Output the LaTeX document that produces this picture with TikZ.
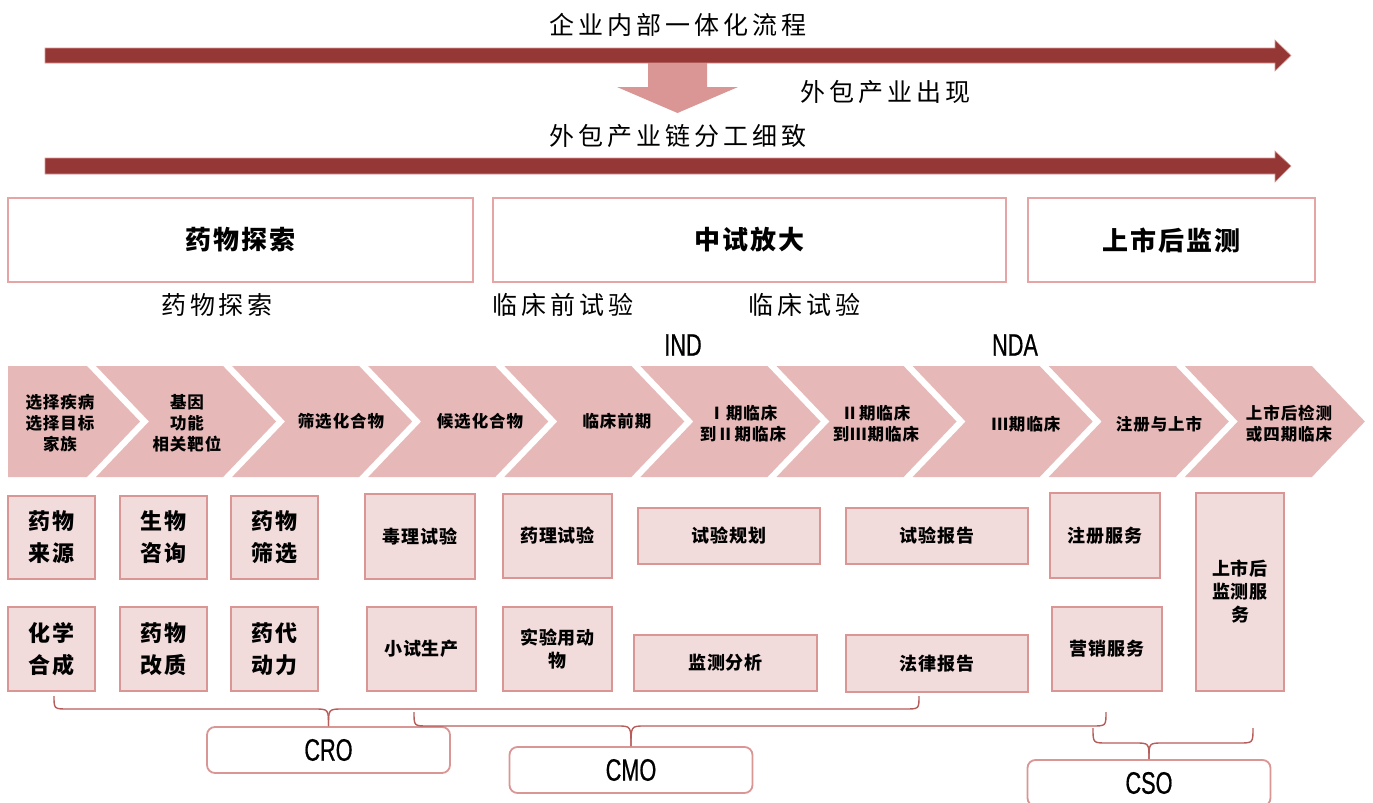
\documentclass[tikz,border=0pt]{standalone}
\usepackage{fontspec}
\setmainfont{Noto Sans CJK SC}
\newfontfamily\fTitle[LetterSpace=16]{Noto Sans CJK SC}
\newfontfamily\fHead[LetterSpace=7]{Noto Sans CJK SC}
\newfontfamily\fChev[LetterSpace=6]{Noto Sans CJK SC}
\newfontfamily\fBig[LetterSpace=10]{Noto Sans CJK SC}
\newfontfamily\fSmall[LetterSpace=5]{Noto Sans CJK SC}
\newfontfamily\fNarrow[FakeStretch=0.7,FakeBold=0.6]{Liberation Sans}
\definecolor{darkred}{HTML}{953735}
\definecolor{downcol}{HTML}{D99694}
\definecolor{chev}{HTML}{E6B9B8}
\definecolor{boxfill}{HTML}{F2DCDB}
\definecolor{boxline}{HTML}{D99694}
\definecolor{headline}{HTML}{E6A5A5}
\definecolor{bracecol}{HTML}{B85C5A}
\begin{document}
\begin{tikzpicture}[x=0.5pt,y=-0.5pt,
  ttl/.style={font=\fTitle\fontsize{12.5}{15}\selectfont, inner sep=0},
  lbl/.style={font=\fTitle\fontsize{12.5}{15}\selectfont, inner sep=0},
  headbox/.style={draw=headline, line width=0.75pt, fill=white, minimum height=42pt, inner sep=0,
    font=\fHead\bfseries\fontsize{13}{15}\selectfont},
  chevtxt/.style={font=\fChev\bfseries\fontsize{8.25}{10.5}\selectfont, align=center, inner sep=0},
  pbox/.style={draw=boxline, fill=boxfill, line width=0.9pt, inner sep=0, align=center},
  bigtxt/.style={pbox, font=\fBig\bfseries\fontsize{11}{16}\selectfont},
  smalltxt/.style={pbox, font=\fSmall\bfseries\fontsize{9}{11.5}\selectfont},
  latin/.style={font=\fNarrow\fontsize{15.5}{17}\selectfont, inner sep=0},
  orgbox/.style={draw=boxline, line width=0.9pt, fill=white, rounded corners=4pt,
    minimum width=121.5pt, minimum height=23pt, inner sep=0, font=\fNarrow\fontsize{15.5}{17}\selectfont},
  brace/.style={draw=bracecol, line width=0.7pt},
  bigarrow/.style={fill=darkred, draw=downcol, line width=0.3pt}
]
\useasboundingbox (0,0) rectangle (1373,803);

% ---- top arrows ----
\path[bigarrow] (45,48) -- (1275,48) -- (1275,40) -- (1291,55.5) -- (1275,71) -- (1275,63) -- (45,63) -- cycle;
\path[bigarrow] (45,158) -- (1275,158) -- (1275,151) -- (1291,166) -- (1275,182) -- (1275,174) -- (45,174) -- cycle;
\fill[downcol] (648,63) -- (707,63) -- (707,87) -- (738,87) -- (677.5,113) -- (617,87) -- (648,87) -- cycle;

\node[ttl] (t1) at (678,25) {企业内部一体化流程};
\node[ttl] (t2) at (885,92) {外包产业出现};
\node[ttl] (t3) at (678,136) {外包产业链分工细致};

% ---- header boxes ----
\node[headbox, minimum width=232.5pt] (h1) at (240.5,240) {药物探索};
\node[headbox, minimum width=256.5pt] (h2) at (749.5,240) {中试放大};
\node[headbox, minimum width=143.5pt] (h3) at (1171.5,240) {上市后监测};

\node[lbl] (l1) at (217,305) {药物探索};
\node[lbl] (l2) at (563,305) {临床前试验};
\node[lbl] (l3) at (804,305) {临床试验};
\node[latin] (ind) at (683,345) {IND};
\node[latin] (nda) at (1015,345) {NDA};

% ---- chevrons ----
\fill[chev] (8,366) -- (87,366) -- (140,421.5) -- (87,477) -- (8,477) -- cycle;
\foreach \k in {1,...,9}{
  \pgfmathsetmacro{\R}{87+136.1*\k}
  \pgfmathsetmacro{\L}{87+136.1*(\k-1)+9}
  \fill[chev] (\L,366) -- (\R,366) -- (\R+53,421.5) -- (\R,477) -- (\L,477) -- (\L+53,421.5) -- cycle;
}
\node[chevtxt] (cv0) at (60,423) {选择疾病\\选择目标\\家族};
\node[chevtxt] (cv1) at (187,423) {基因\\功能\\相关靶位};
\node[chevtxt] (cv2) at (341,421) {筛选化合物};
\node[chevtxt] (cv3) at (480,421) {候选化合物};
\node[chevtxt] (cv4) at (617,421) {临床前期};
\node[chevtxt] (cv5) at (743,424) {Ⅰ期临床\\到Ⅱ期临床};
\node[chevtxt] (cv6) at (876,424) {Ⅱ期临床\\到Ⅲ期临床};
\node[chevtxt] (cv7) at (1026,424) {Ⅲ期临床};
\node[chevtxt] (cv8) at (1159,424) {注册与上市};
\node[chevtxt] (cv9) at (1289,424) {上市后检测\\或四期临床};

% ---- service boxes ----
\node[bigtxt, minimum width=43.5pt, minimum height=41.5pt] (a1) at (51.5,537.5) {药物\\来源};
\node[bigtxt, minimum width=43.5pt, minimum height=41.5pt] (a2) at (163.5,537.5) {生物\\咨询};
\node[bigtxt, minimum width=43.5pt, minimum height=41.5pt] (a3) at (274.5,537.5) {药物\\筛选};
\node[bigtxt, minimum width=43.5pt, minimum height=42pt] (b1) at (51.5,649) {化学\\合成};
\node[bigtxt, minimum width=43.5pt, minimum height=42pt] (b2) at (163.5,649) {药物\\改质};
\node[bigtxt, minimum width=43.5pt, minimum height=42pt] (b3) at (274.5,649) {药代\\动力};

\node[smalltxt, minimum width=55pt, minimum height=42.5pt] (c1) at (420,536.5) {毒理试验};
\node[smalltxt, minimum width=54.5pt, minimum height=42pt] (c2) at (421.5,649) {小试生产};
\node[smalltxt, minimum width=54.5pt, minimum height=42pt] (d1) at (557.5,536) {药理试验};
\node[smalltxt, minimum width=54.5pt, minimum height=42pt] (d2) at (557.5,649) {实验用动\\物};
\node[smalltxt, minimum width=91pt, minimum height=28pt] (e1) at (729,536) {试验规划};
\node[smalltxt, minimum width=91.5pt, minimum height=28pt] (e2) at (725.5,663) {监测分析};
\node[smalltxt, minimum width=91pt, minimum height=28pt] (f1) at (937,536) {试验报告};
\node[smalltxt, minimum width=91pt, minimum height=28.5pt] (f2) at (937,663.5) {法律报告};
\node[smalltxt, minimum width=55pt, minimum height=42.5pt] (g1) at (1105,535.5) {注册服务};
\node[smalltxt, minimum width=55pt, minimum height=42pt] (g2) at (1107,649) {营销服务};
\node[smalltxt, minimum width=44pt, minimum height=99pt] (h) at (1240,592) {上市后\\监测服\\务};

% ---- organisation boxes ----
\node[orgbox] (cro) at (328.5,750) {CRO};
\node[orgbox] (cmo) at (631,770) {CMO};
\node[orgbox] (cso) at (1149,783) {CSO};

% ---- braces ----
\coordinate (croL) at (54,696);
\coordinate (croR) at (919,696);
\draw[brace] (croL) .. controls (54,709) .. (68,709) -- (314,709) .. controls (328.5,709) .. (cro.north);
\draw[brace] (cro.north) .. controls (328.5,709) .. (343,709) -- (905,709) .. controls (919,709) .. (croR);

\coordinate (cmoL) at (414,712);
\coordinate (cmoR) at (1106,712);
\draw[brace] (cmoL) .. controls (414,726) .. (428,726) -- (617,726) .. controls (631,726) .. (cmo.north);
\draw[brace] (cmo.north) .. controls (631,726) .. (645,726) -- (1092,726) .. controls (1106,726) .. (cmoR);

\coordinate (csoL) at (1093,728);
\coordinate (csoR) at (1253,728);
\draw[brace] (csoL) .. controls (1093,743) .. (1107,743) -- (1135,743) .. controls (1149,743) .. (cso.north);
\draw[brace] (cso.north) .. controls (1149,743) .. (1163,743) -- (1239,743) .. controls (1253,743) .. (csoR);
\end{tikzpicture}
\end{document}
